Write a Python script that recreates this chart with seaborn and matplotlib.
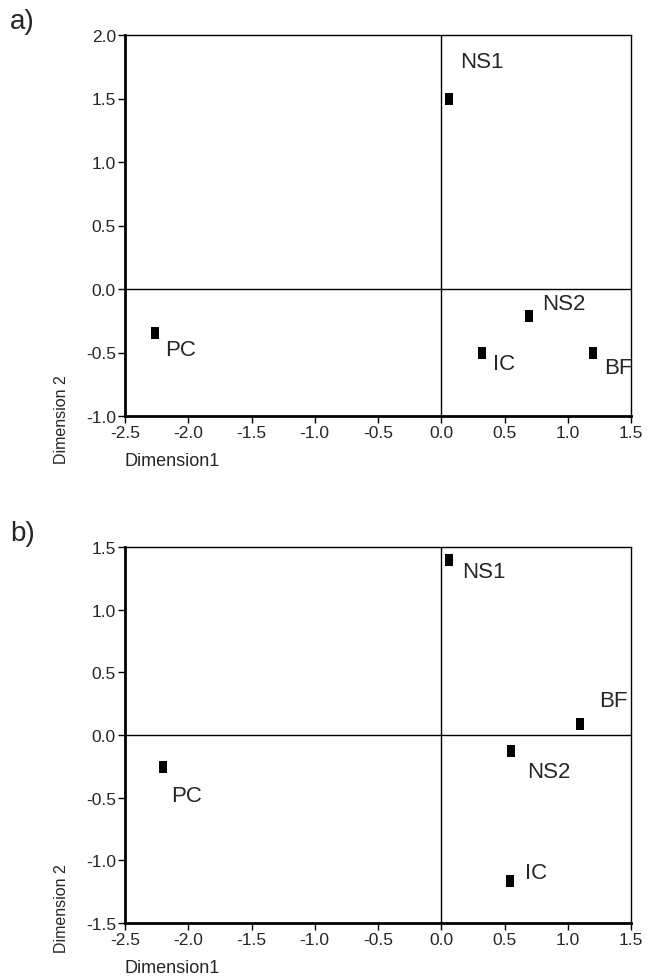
import numpy as np
import pandas as pd
import matplotlib
matplotlib.use('Agg')
import matplotlib.pyplot as plt
import seaborn as sns

# valores
labels = ['NS1', 'NS2', 'IC', 'BF', 'PC']
a_x = [0.06, 0.69, 0.32, 1.20, -2.26]
a_y = [1.50, -0.21, -0.50, -0.50, -0.35]
b_x = [0.06, 0.55, 0.54, 1.10, -2.20]
b_y = [1.40, -0.13, -1.165, 0.09, -0.255]
x_ticks = [-2.5, -2.0, -1.5, -1.0, -0.5, 0.0, 0.5, 1.0, 1.5]
a_ticks = [-1.0, -0.5, 0.0, 0.5, 1.0, 1.5, 2.0]
b_ticks = [-1.5, -1.0, -0.5, 0.0, 0.5, 1.0, 1.5]

# deslocamento dos rótulos em pixels (dx, dy para baixo)
a_off = {'NS1': (11, -37), 'NS2': (14, -12), 'IC': (11, 11), 'BF': (11, 15), 'PC': (10, 16)}
b_off = {'NS1': (13, 12), 'NS2': (16, 20), 'IC': (15, -9), 'BF': (19, -23), 'PC': (8, 29)}

sns.set_style('ticks')
plt.rcParams['font.family'] = ['Liberation Sans', 'DejaVu Sans']
plt.rcParams['axes.unicode_minus'] = False

W, H = 656, 978
fig = plt.figure(figsize=(W / 100, H / 100), dpi=100)

rect = [(-0.36, -0.5), (0.36, -0.5), (0.36, 0.5), (-0.36, 0.5), (-0.36, -0.5)]


def painel(top, bottom, xs, ys, yticks, offs, letra, ylab_y):
    ax = fig.add_axes([125 / W, 1 - bottom / H, (631 - 125) / W, (bottom - top) / H])
    df = pd.DataFrame({'x': xs, 'y': ys, 'lab': labels})
    ax.axhline(0, color='black', lw=1, zorder=1)
    ax.axvline(0, color='black', lw=1, zorder=1)
    sns.scatterplot(data=df, x='x', y='y', ax=ax, marker=rect, s=64,
                    color='black', edgecolor='black', linewidth=0, zorder=3)
    for _, r in df.iterrows():
        dx, dy = offs[r['lab']]
        ax.annotate(r['lab'], (r['x'], r['y']), xytext=(dx, -dy),
                    textcoords='offset pixels', ha='left', va='center',
                    fontsize=16, annotation_clip=False, clip_on=True)
    ax.set_xlim(x_ticks[0], x_ticks[-1])
    ax.set_ylim(yticks[0], yticks[-1])
    ax.set_xticks(x_ticks)
    ax.set_yticks(yticks)
    ax.set_xticklabels(['%.1f' % v for v in x_ticks])
    ax.set_yticklabels(['%.1f' % v for v in yticks])
    ax.tick_params(direction='out', length=5, width=1, pad=1.5,
                   labelsize=12.5, color='black')
    for s in ['top', 'right']:
        ax.spines[s].set_linewidth(1)
    for s in ['left', 'bottom']:
        ax.spines[s].set_linewidth(2)
    for s in ax.spines.values():
        s.set_color('black')
        s.set_visible(True)
    ax.set_xlabel('')
    ax.set_ylabel('')
    fig.text(124 / W, 1 - (bottom + 45) / H, 'Dimension1', fontsize=13,
             ha='left', va='center')
    fig.text(62 / W, 1 - ylab_y / H, 'Dimension 2', fontsize=11.5,
             rotation=90, ha='center', va='center')
    fig.text(10 / W, 1 - (top - 14) / H, letra, fontsize=20,
             ha='left', va='center')
    return ax


painel(36, 417, a_x, a_y, a_ticks, a_off, 'a)', 420)
painel(548, 924, b_x, b_y, b_ticks, b_off, 'b)', 909)

fig.savefig('out.png', dpi=100)
